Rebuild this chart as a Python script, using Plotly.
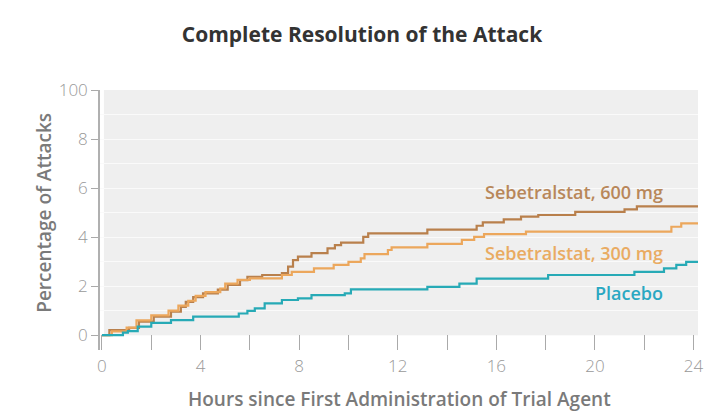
import plotly.graph_objects as go

# Kaplan-Meier style step data: hours since first dose vs. % of attacks resolved
hours_600 = [0, 0.3, 1.1, 1.5, 2.1, 2.8, 3.2, 3.4, 3.7, 4.1, 4.7, 5.1, 5.6, 5.9, 6.5, 7.3,
             7.55, 7.75, 7.95, 8.5, 9.15, 9.45, 9.7, 10.6, 10.8, 13.2, 15.2, 15.45, 16.3,
             17.0, 17.7, 19.2, 21.2, 21.7, 24.2]
pct_600 = [0, 2.0, 2.9, 5.5, 7.5, 9.5, 11.5, 13.5, 15.5, 17.0, 18.5, 20.5, 22.4, 23.8, 24.5,
           25.3, 27.9, 30.6, 32.0, 33.4, 35.4, 36.7, 37.7, 40.1, 41.5, 43.0, 44.6, 46.0, 47.2,
           48.3, 49.0, 50.3, 51.3, 52.5, 52.5]

hours_300 = [0, 0.4, 1.0, 1.4, 2.0, 2.7, 3.1, 3.5, 3.8, 4.2, 4.8, 5.0, 5.5, 6.0, 7.3, 7.7,
             8.6, 9.4, 10.0, 10.5, 10.65, 11.6, 11.75, 13.2, 14.6, 15.1, 15.5, 17.2, 23.1,
             23.5, 24.2]
pct_300 = [0, 1.5, 3.0, 6.0, 8.0, 10.0, 12.0, 14.0, 16.0, 17.5, 19.0, 21.0, 22.5, 23.1, 24.5,
           25.8, 27.2, 28.6, 29.9, 31.3, 33.0, 34.7, 35.8, 37.2, 38.8, 40.1, 41.2, 42.2, 44.2,
           45.6, 45.6]

hours_pbo = [0, 0.85, 1.05, 1.45, 2.0, 2.8, 3.7, 5.55, 5.9, 6.2, 6.6, 7.3, 7.95, 8.5, 9.85,
             10.1, 13.2, 14.5, 15.2, 18.1, 21.6, 22.8, 23.3, 23.7, 24.2]
pct_pbo = [0, 1.0, 1.6, 3.4, 5.0, 6.1, 7.5, 8.8, 9.9, 10.9, 12.9, 14.3, 15.0, 16.3, 17.0,
           18.6, 19.7, 21.0, 23.0, 24.5, 25.8, 27.2, 28.6, 29.9, 29.9]

x_ticks = [0, 4, 8, 12, 16, 20, 24]
y_ticks = [0, 20, 40, 60, 80, 100]
y_tick_text = ["0", "2", "4", "6", "8", "100"]

series = [
    ("Sebetralstat, 600 mg", hours_600, pct_600, "#b9804c", "#b8875a", 58.4),
    ("Sebetralstat, 300 mg", hours_300, pct_300, "#eca75c", "#e9ab62", 33.5),
    ("Placebo", hours_pbo, pct_pbo, "#27aab6", "#2aa8c2", 17.1),
]

FONT = "Open Sans"
fig = go.Figure()

# shaded panel behind the curves (0-100 %)
fig.add_shape(type="rect", xref="x", yref="y", x0=0.08, x1=24.3, y0=0, y1=100,
              fillcolor="#efefef", line_width=0, layer="below")

for name, xs, ys, lc, tc, ylab in series:
    fig.add_trace(go.Scatter(x=xs, y=ys, mode="lines", line_shape="hv",
                             line=dict(color=lc, width=2.2), name=name,
                             showlegend=False, hoverinfo="skip"))
    fig.add_annotation(x=22.85, y=ylab, xref="x", yref="y", text=name,
                       showarrow=False, xanchor="right", yanchor="middle",
                       font=dict(family=FONT, size=18, weight=600, color=tc))

fig.update_xaxes(range=[-0.08, 24.18], tickvals=x_ticks,
                 ticktext=[str(v) for v in x_ticks],
                 ticks="inside", ticklen=15, tickwidth=1.2, tickcolor="#aaaaaa",
                 minor=dict(dtick=2, tick0=0, ticks="inside", ticklen=15,
                            tickwidth=1.2, tickcolor="#aaaaaa"),
                 showline=False, showgrid=False, zeroline=False,
                 ticklabeloverflow="allow", ticklabelstandoff=4,
                 tickfont=dict(family=FONT, size=17, weight=300, color="#999999"))

fig.update_yaxes(range=[-6.1, 100], tickvals=y_ticks, ticktext=y_tick_text,
                 ticks="outside", ticklen=7, tickwidth=1.2, tickcolor="#aaaaaa",
                 showline=True, linecolor="#b0b0b0", linewidth=1.6,
                 showgrid=True, gridcolor="#fafafa", gridwidth=1,
                 minor=dict(dtick=10, tick0=0, showgrid=True, gridcolor="#fafafa",
                            gridwidth=1, ticks=""),
                 zeroline=False,
                 tickfont=dict(family=FONT, size=17, weight=300, color="#999999"))

# axis titles and chart title
fig.add_annotation(x=0.5, y=-0.19, xref="paper", yref="paper",
                   text="Hours since First Administration of Trial Agent",
                   showarrow=False, xanchor="center", yanchor="middle",
                   font=dict(family=FONT, size=19, weight=600, color="#7a7a7a"))
fig.add_annotation(x=-0.094, y=0.527, xref="paper", yref="paper",
                   text="Percentage of Attacks", textangle=-90,
                   showarrow=False, xanchor="center", yanchor="middle",
                   font=dict(family=FONT, size=19, weight=600, color="#7a7a7a"))

fig.update_layout(
    width=704, height=412,
    margin=dict(l=100, r=0, t=90, b=62),
    paper_bgcolor="white", plot_bgcolor="white",
    title=dict(text="Complete Resolution of the Attack",
               x=362 / 704, xref="container", xanchor="center",
               y=1 - 35 / 412, yref="container", yanchor="middle",
               font=dict(family=FONT, size=21, weight=700, color="#333333")),
)

fig.write_html("out.html")
